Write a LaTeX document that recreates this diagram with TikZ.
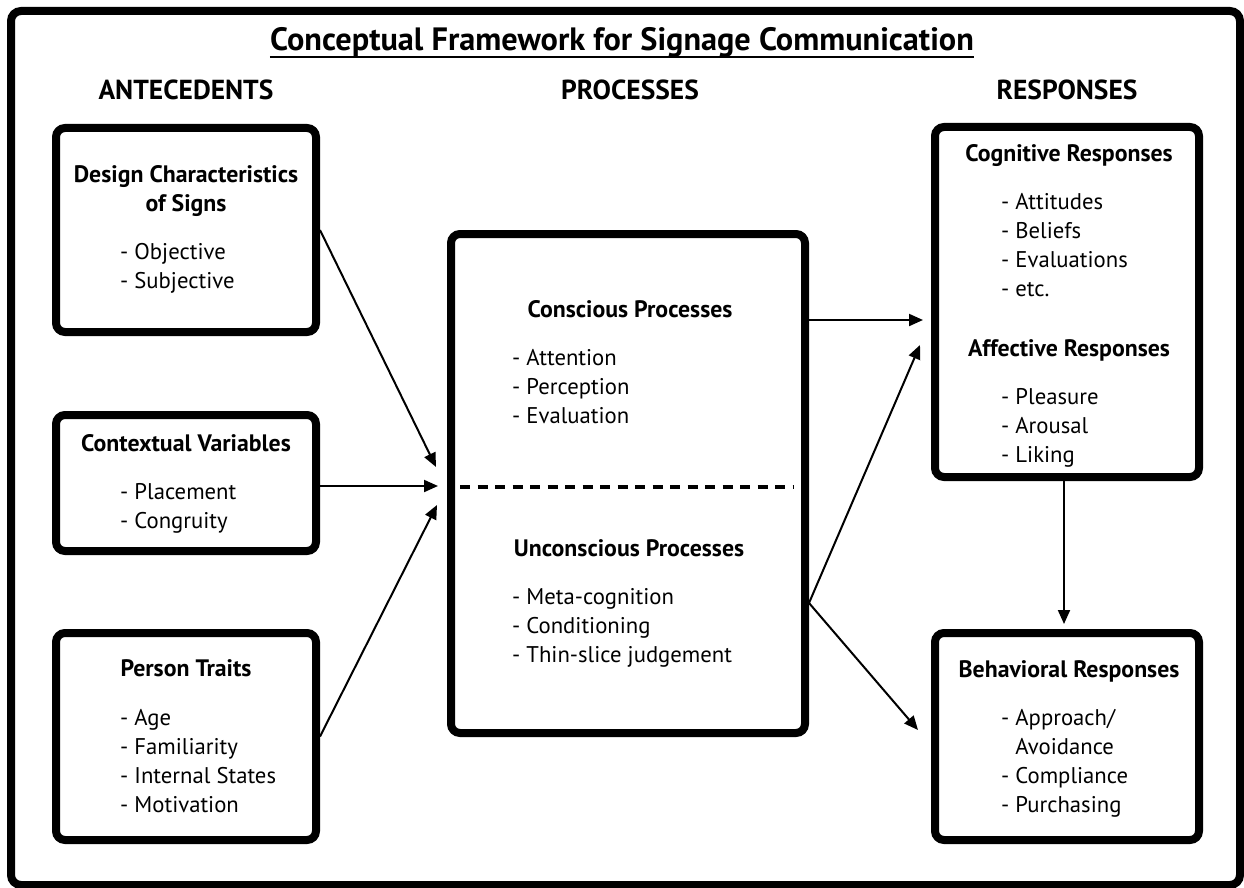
\documentclass[tikz,border=0pt]{standalone}
\usepackage{fontspec}
\setmainfont{PT Sans}
\usetikzlibrary{arrows.meta,calc}

\begin{document}
\begin{tikzpicture}[x=1pt,y=-1pt,
  box/.style={draw=black,line width=8pt,rounded corners=9pt,fill=white,
              inner sep=0pt,rectangle},
  arr/.style={line width=2pt,-{Triangle[length=14pt,width=12pt]}},
  heading/.style={font=\fontsize{23.8}{29}\selectfont\bfseries,inner sep=0pt,anchor=base},
  items/.style={font=\fontsize{22.7}{29.2}\selectfont,inner sep=0pt,align=left,anchor=north west},
  column/.style={font=\fontsize{27.5}{30}\selectfont\bfseries,inner sep=0pt,anchor=base},
]
\useasboundingbox (0,0) rectangle (1244,888);
\fill[white] (0,0) rectangle (1244,888);

% outer frame
\draw[line width=8pt,rounded corners=10pt] (11,11) rectangle (1240,885);

% title
\node[font=\fontsize{32.3}{36}\selectfont\bfseries,inner sep=0pt,anchor=base] (title) at (622,51)
  {Conceptual Framework for Signage Communication};
\draw[line width=2pt] (title.base west) ++(0,6) coordinate (ul1) -- (title.base east |- ul1);

% column headings
\node[column] (hA) at (186,100) {ANTECEDENTS};
\node[column] (hP) at (630,100) {PROCESSES};
\node[column] (hR) at (1067,100) {RESPONSES};

% antecedent boxes
\node[box,minimum width=260pt,minimum height=204pt] (b1) at (186,230) {};
\node[box,minimum width=260pt,minimum height=136pt] (b2) at (186,483) {};
\node[box,minimum width=260pt,minimum height=207pt] (b3) at (186,736.5) {};

% process box
\node[box,minimum width=354pt,minimum height=499pt] (mid) at (628,483.5) {};

% response boxes
\node[box,minimum width=264pt,minimum height=350pt] (cog) at (1067,302) {};
\node[box,minimum width=264pt,minimum height=207pt] (beh) at (1067,736.5) {};

% texts: antecedents
\node[heading,align=center] (t1) at (186,211) {Design Characteristics\\of Signs};
\node[items] (i1) at (120,243) {- Objective\\- Subjective};

\node[heading] (t2) at (186,451) {Contextual Variables};
\node[items] (i2) at (120,483) {- Placement\\- Congruity};

\node[heading] (t3) at (186,676) {Person Traits};
\node[items] (i3) at (120,709) {- Age\\- Familiarity\\- Internal States\\- Motivation};

% texts: processes
\node[heading] (t4) at (630,317) {Conscious Processes};
\node[items] (i4) at (512,349) {- Attention\\- Perception\\- Evaluation};

\node[heading] (t5) at (629,556) {Unconscious Processes};
\node[items] (i5) at (512,588) {- Meta-cognition\\- Conditioning\\- Thin-slice judgement};

% texts: responses
\node[heading] (t6) at (1069,161) {Cognitive Responses};
\node[items] (i6) at (1001,193) {- Attitudes\\- Beliefs\\- Evaluations\\- etc.};
\node[heading] (t7) at (1069,356) {Affective Responses};
\node[items] (i7) at (1001,388) {- Pleasure\\- Arousal\\- Liking};

\node[heading] (t8) at (1069,677) {Behavioral Responses};
\node[items] (i8) at (1001,709) {- Approach/\\\phantom{- }Avoidance\\- Compliance\\- Purchasing};

% divider between conscious and unconscious processes
\draw[line width=3.5pt,dash pattern=on 10pt off 7.5pt]
  ($(mid.west)+(13,3.5)$) -- ($(mid.east)+(-16,3.5)$);

% connectors
\coordinate (in1) at (436,467);
\coordinate (in2) at (438,486);
\coordinate (in3) at (437,505);
\draw[arr] (b1.east) -- (in1);
\draw[arr] (b2.east |- in2) -- (in2);
\draw[arr] (b3.east) -- (in3);

\coordinate (out1) at (923,320);
\coordinate (fork) at (mid.east |- 0,603);
\coordinate (out2) at (920,345);
\coordinate (out3) at (918,730);
\draw[arr] (mid.east |- out1) -- (out1);
\draw[arr] (fork) -- (out2);
\draw[arr] (fork) -- (out3);

\coordinate (down) at (1064,624);
\draw[arr] (cog.south -| down) -- (down);
\end{tikzpicture}
\end{document}
